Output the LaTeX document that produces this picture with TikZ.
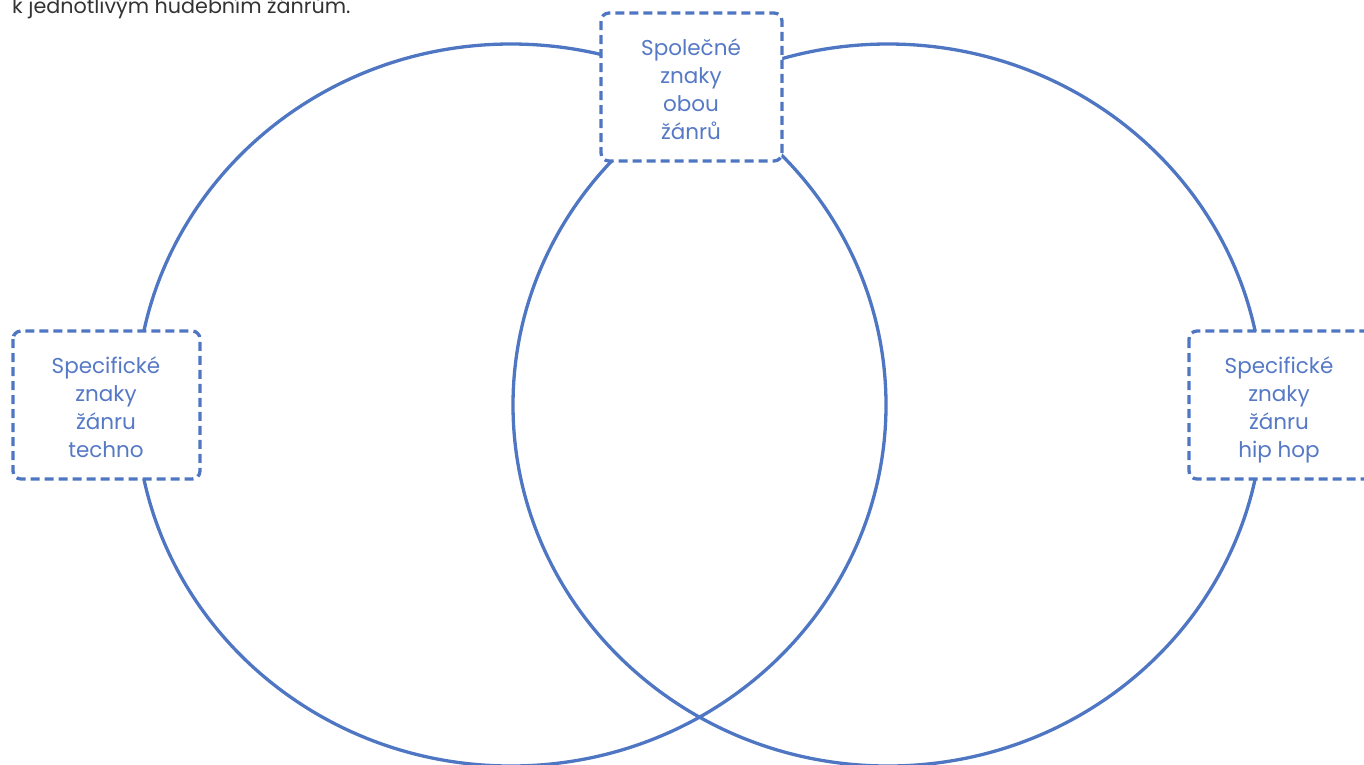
\documentclass[tikz,border=0pt]{standalone}
\usepackage{fontspec}
\setmainfont{Poppins}
\definecolor{vblue}{HTML}{4F76C3}
\definecolor{tblue}{HTML}{5679C6}
\definecolor{tgray}{HTML}{333333}
\begin{document}
\begin{tikzpicture}[x=1pt,y=-1pt,
  ring/.style={draw=vblue,line width=3.3pt},
  dbox/.style={draw=vblue,line width=3.3pt,dash pattern=on 9pt off 5pt,rounded corners=8pt,fill=white},
  btext/.style={text=tblue,align=center,font=\fontsize{21.5}{28}\selectfont,inner sep=0pt}]
\useasboundingbox (0,0) rectangle (1364,764);
\clip (0,0) rectangle (1364,764);
\node[anchor=base west,text=tgray,font=\fontsize{20.7}{24}\selectfont,inner sep=0pt] (intro) at (12,13) {k jednotlivým hudebním žánrům.};
\draw[ring] (511,405) ellipse [x radius=375, y radius=361];
\draw[ring] (888,405) ellipse [x radius=375, y radius=361];
\draw[dbox] (13,331) rectangle (200,479);
\draw[dbox] (601,13) rectangle (782,161);
\draw[dbox] (1189,331) rectangle (1378,479);
\node[btext] (techno) at (106,410) {\strut Specifické\\znaky\\žánru\\techno\strut};
\node[btext] (both) at (691,92) {\strut Společné\\znaky\\obou\\žánrů\strut};
\node[btext] (hiphop) at (1279,410) {\strut Specifické\\znaky\\žánru\\hip hop\strut};
\end{tikzpicture}
\end{document}
